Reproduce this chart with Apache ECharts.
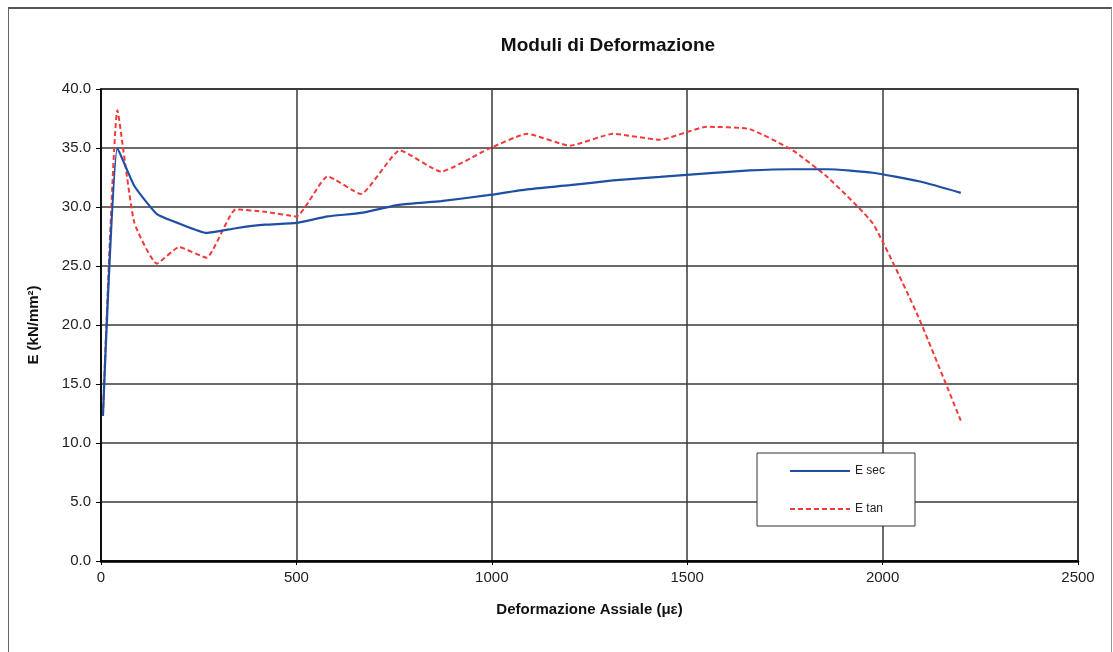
<!DOCTYPE html>
<html>
<head>
<meta charset="utf-8">
<script src="https://cdn.jsdelivr.net/npm/echarts@6/dist/echarts.min.js"></script>
<style>
  html, body { margin: 0; padding: 0; background: #fff; }
  #frame { position: absolute; left: 8px; top: 7px; width: 1102px; height: 660px;
           border-left: 1px solid #666; border-right: 1px solid #999; border-top: 2px solid #555; }
  #main { position: absolute; left: 0; top: 0; width: 1113px; height: 652px; }
</style>
</head>
<body>
<div id="frame"></div>
<div id="main"></div>
<script>
// strain (µε) and moduli (kN/mm²)
const strain = [5, 42, 85, 143, 200, 270, 345, 420, 500, 580, 665, 765, 870, 990, 1090, 1200, 1310, 1430, 1550, 1660, 1770, 1860, 1975, 2090, 2200];
const eSec = [12.3, 35.0, 31.8, 29.4, 28.6, 27.8, 28.2, 28.5, 28.65, 29.2, 29.5, 30.2, 30.5, 31.0, 31.5, 31.85, 32.25, 32.55, 32.85, 33.1, 33.2, 33.2, 32.9, 32.2, 31.2];
const eTan = [12.3, 38.2, 28.7, 25.2, 26.6, 25.7, 29.8, 29.6, 29.2, 32.6, 31.1, 34.8, 33.0, 34.9, 36.2, 35.2, 36.2, 35.7, 36.8, 36.6, 34.8, 32.5, 28.6, 20.8, 11.9];
const xTicks = [0, 500, 1000, 1500, 2000, 2500];

const chart = echarts.init(document.getElementById("main"));
const font = "Arial, 'Liberation Sans', sans-serif";

const option = {
    backgroundColor: "transparent",
    animation: false,
    title: {
        text: "Moduli di Deformazione",
        left: 603,
        top: 31,
        textAlign: "center",
        textStyle: { fontFamily: font, fontSize: 19, fontWeight: "bold", color: "#111" },
    },
    legend: {
        orient: "vertical",
        left: 757,
        top: 453,
        itemWidth: 60,
        itemHeight: 14,
        itemGap: 26,
        padding: [12, 30, 11, 32],
        borderColor: "#333",
        borderWidth: 1,
        backgroundColor: "#fff",
        itemStyle: { opacity: 0 },
        textStyle: { fontFamily: font, fontSize: 12, color: "#222" },
        data: ["E sec", "E tan"],
    },
    grid: { left: 101, right: 35, top: 89, bottom: 91, show: true, borderColor: "#000", borderWidth: 1.5 },
    xAxis: {
        type: "value",
        min: 0,
        max: 2500,
        interval: 500,
        name: "Deformazione Assiale (\u03bc\u03b5)",
        nameLocation: "middle",
        nameGap: 41,
        nameTextStyle: { fontFamily: font, fontSize: 15, fontWeight: "bold", color: "#111" },
        axisLine: { lineStyle: { color: "#000", width: 2.5 } },
        axisTick: { show: true, length: 4, lineStyle: { color: "#000" } },
        axisLabel: { fontFamily: font, fontSize: 15, color: "#222", margin: 9,
                     formatter: (v) => xTicks.includes(v) ? String(v) : "" },
        splitLine: { lineStyle: { color: "#3a3a3a", width: 1.5 } },
    },
    yAxis: {
        type: "value",
        min: 0,
        max: 40,
        interval: 5,
        name: "E (kN/mm\u00b2)",
        nameLocation: "middle",
        nameGap: 60,
        nameTextStyle: { fontFamily: font, fontSize: 15, fontWeight: "bold", color: "#111" },
        axisLine: { show: true, lineStyle: { color: "#000", width: 1.5 } },
        axisTick: { show: true, length: 5, lineStyle: { color: "#000" } },
        axisLabel: { fontFamily: font, fontSize: 15, color: "#222", margin: 10,
                     formatter: (v) => v.toFixed(1) },
        splitLine: { lineStyle: { color: "#3a3a3a", width: 1.5 } },
    },
    series: [
        {
            name: "E sec",
            type: "line",
            data: strain.map((x, i) => [x, eSec[i]]),
            symbol: "none",
            smooth: 0.15,
            lineStyle: { color: "#1f4fa3", width: 2.2 },
            itemStyle: { color: "#1f4fa3" },
            z: 3,
        },
        {
            name: "E tan",
            type: "line",
            data: strain.map((x, i) => [x, eTan[i]]),
            symbol: "none",
            smooth: 0.15,
            lineStyle: { color: "#f23a3a", width: 2, type: [5, 3] },
            itemStyle: { color: "#f23a3a" },
            z: 2,
        },
    ],
};

chart.setOption(option);
</script>
</body>
</html>
